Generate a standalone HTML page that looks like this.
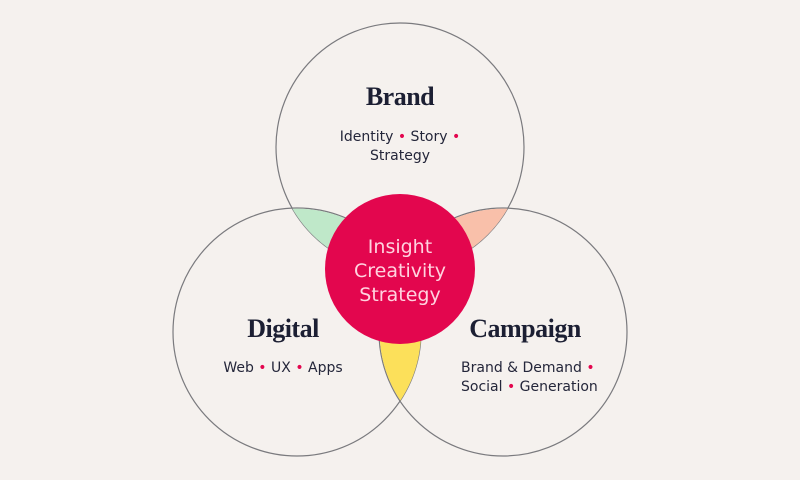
<!DOCTYPE html>
<html><head><meta charset="utf-8"><style>
html,body{margin:0;padding:0;background:#f5f1ee;}
svg{display:block}
.t{font-family:"Liberation Serif",serif;font-weight:bold;font-size:26px;fill:#1c1f33;letter-spacing:-0.5px}
.s{font-family:"DejaVu Sans","Liberation Sans",sans-serif;font-size:14px;fill:#24263a}
.d{fill:#e3064e}
.c{font-family:"DejaVu Sans","Liberation Sans",sans-serif;font-size:19px;fill:#ffd3df}
</style></head><body>
<svg width="800" height="480" viewBox="0 0 800 480" xmlns="http://www.w3.org/2000/svg">
<defs>
<clipPath id="cb"><circle cx="400" cy="147" r="124"/></clipPath>
<clipPath id="cd"><circle cx="297" cy="332" r="124"/></clipPath>
</defs>
<rect width="800" height="480" fill="#f5f1ee"/>
<g fill="none" stroke="#7a7a7e" stroke-width="1.2">
<circle cx="400" cy="147" r="124"/>
<circle cx="297" cy="332" r="124"/>
<circle cx="503" cy="332" r="124"/>
</g>
<g clip-path="url(#cb)"><circle cx="297" cy="332" r="123.4" fill="#bfe8c9"/></g>
<g clip-path="url(#cb)"><circle cx="503" cy="332" r="123.4" fill="#f9c0aa"/></g>
<g clip-path="url(#cd)"><circle cx="503" cy="332" r="123.4" fill="#fce05a"/></g>
<circle cx="400" cy="269" r="75" fill="#e3064e"/>
<text class="c" text-anchor="middle" x="400" y="253">Insight</text>
<text class="c" text-anchor="middle" x="400" y="277">Creativity</text>
<text class="c" text-anchor="middle" x="400" y="301">Strategy</text>

<text class="t" text-anchor="middle" x="400" y="105">Brand</text>
<text class="s" text-anchor="middle" x="400" y="141">Identity <tspan class="d">•</tspan> Story <tspan class="d">•</tspan></text>
<text class="s" text-anchor="middle" x="400" y="160">Strategy</text>

<text class="t" text-anchor="middle" x="283" y="337">Digital</text>
<text class="s" text-anchor="middle" x="283" y="372">Web <tspan class="d">•</tspan> UX <tspan class="d">•</tspan> Apps</text>

<text class="t" text-anchor="middle" x="525" y="337">Campaign</text>
<text class="s" x="461" y="372">Brand &amp; Demand <tspan class="d">•</tspan></text>
<text class="s" x="461" y="391">Social <tspan class="d">•</tspan> Generation</text>
</svg>
</body></html>
